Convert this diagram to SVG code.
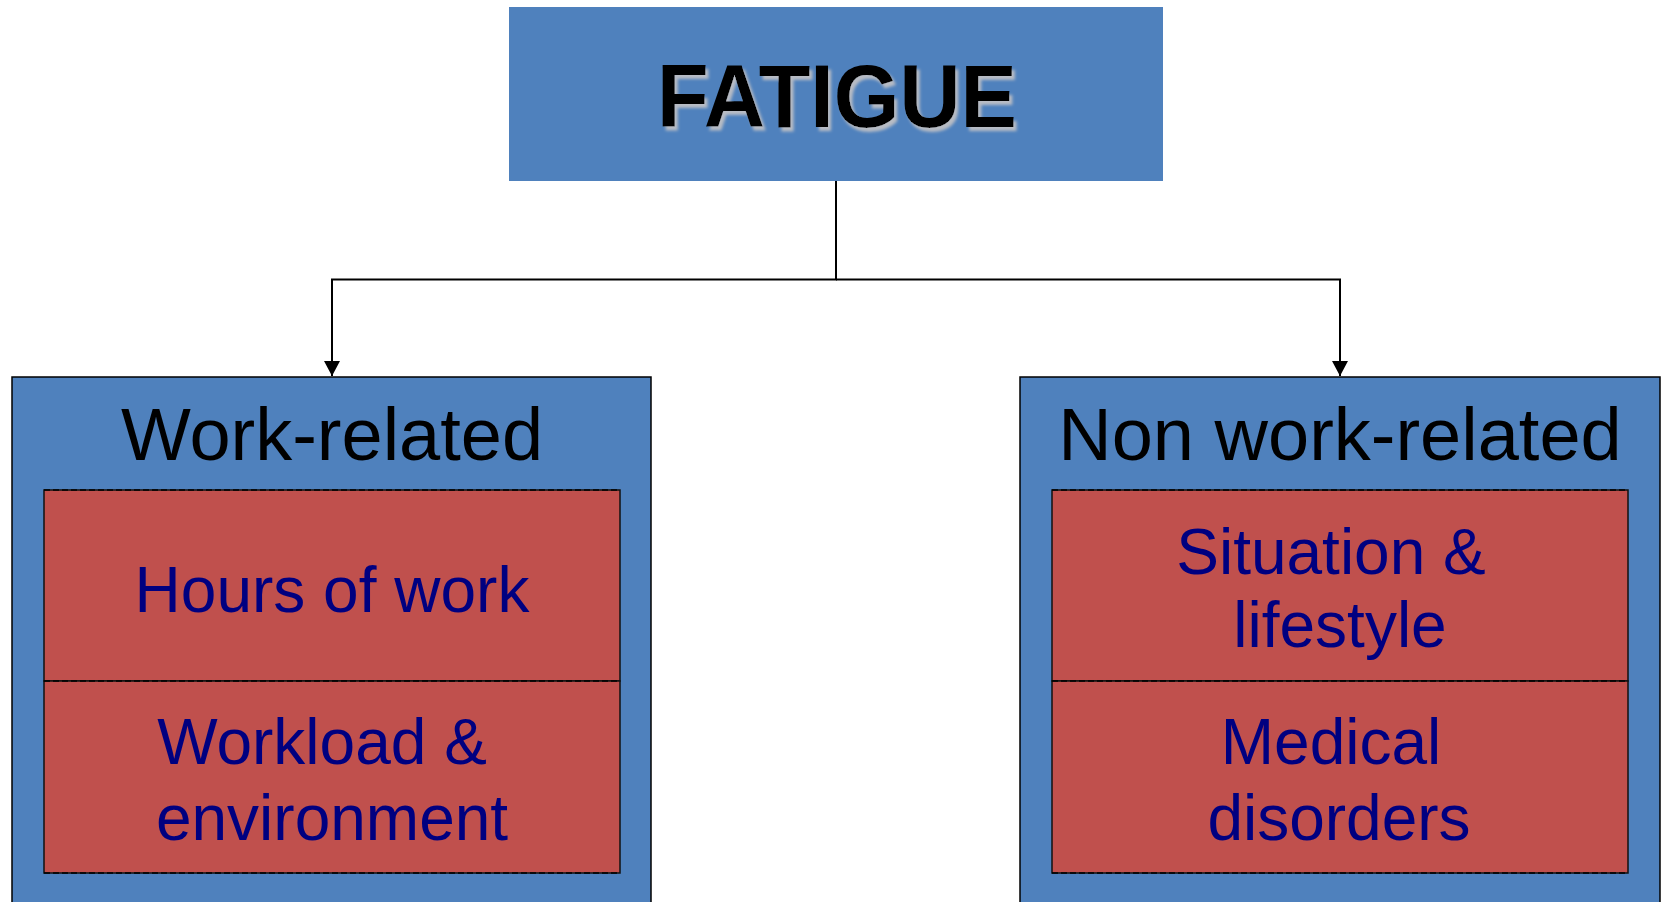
<svg xmlns="http://www.w3.org/2000/svg" width="1666" height="902" viewBox="0 0 1666 902">
<style>
.bg{fill:#ffffff}
.top{fill:#4F81BD}
.outer{fill:#4F81BD;stroke:#000;stroke-width:1.5}
.inner{fill:#C0504D;stroke:#111;stroke-width:1.5}
.dash{fill:none;stroke:#000;stroke-width:1.5;stroke-dasharray:6 3}
.conn{fill:none;stroke:#000;stroke-width:2}
.title{font-family:"Liberation Sans",Arial,sans-serif;font-weight:bold;font-size:89px;text-anchor:middle}
.head{font-family:"Liberation Sans",Arial,sans-serif;font-size:74px;text-anchor:middle;fill:#000}
.item{font-family:"Liberation Sans",Arial,sans-serif;font-size:64px;text-anchor:middle;fill:#000080}
</style>
<defs>
<marker id="arr" markerUnits="userSpaceOnUse" markerWidth="16" markerHeight="16" refX="15" refY="8" orient="auto">
<path d="M0,0 L15,8 L0,16 z" fill="#000"/>
</marker>
<filter id="shadow" x="-10%" y="-20%" width="120%" height="140%">
<feOffset in="SourceAlpha" dx="3" dy="4" result="off"/>
<feGaussianBlur in="off" stdDeviation="1.6" result="blur"/>
<feFlood flood-color="#b8bcc4"/>
<feComposite operator="in" in2="blur" result="sh"/>
<feMerge><feMergeNode in="sh"/><feMergeNode in="SourceGraphic"/></feMerge>
</filter>
</defs>
<rect class="bg" x="0" y="0" width="1666" height="902"/>
<g id="connectors">
<path class="conn" d="M836,181 V279.5 H332 V376" marker-end="url(#arr)"/>
<path class="conn" d="M836,279.5 H1340 V376" marker-end="url(#arr)"/>
</g>
<g id="fatigue">
<rect class="top" x="509" y="7" width="654" height="174"/>
<text class="title" x="837" y="127" fill="#000" filter="url(#shadow)" textLength="360" lengthAdjust="spacingAndGlyphs">FATIGUE</text>
</g>
<g id="work-related">
<rect class="outer" x="12" y="377" width="639" height="540"/>
<text class="head" x="332" y="460">Work-related</text>
</g>
<g id="hours-of-work">
<rect class="inner" x="44" y="490" width="576" height="191"/>
<line class="dash" x1="44" y1="490" x2="620" y2="490"/>
<text class="item" x="332" y="612">Hours of work</text>
</g>
<g id="workload-environment">
<rect class="inner" x="44" y="681" width="576" height="192"/>
<line class="dash" x1="44" y1="681" x2="620" y2="681"/>
<line class="dash" x1="44" y1="873" x2="620" y2="873"/>
<text class="item" x="322" y="764">Workload &amp;</text>
<text class="item" x="332" y="840">environment</text>
</g>
<g id="non-work-related">
<rect class="outer" x="1020" y="377" width="640" height="540"/>
<text class="head" x="1340" y="460">Non work-related</text>
</g>
<g id="situation-lifestyle">
<rect class="inner" x="1052" y="490" width="576" height="191"/>
<line class="dash" x1="1052" y1="490" x2="1628" y2="490"/>
<text class="item" x="1331" y="574">Situation &amp;</text>
<text class="item" x="1340" y="647">lifestyle</text>
</g>
<g id="medical-disorders">
<rect class="inner" x="1052" y="681" width="576" height="192"/>
<line class="dash" x1="1052" y1="681" x2="1628" y2="681"/>
<line class="dash" x1="1052" y1="873" x2="1628" y2="873"/>
<text class="item" x="1331" y="764">Medical</text>
<text class="item" x="1339" y="840">disorders</text>
</g>
</svg>
